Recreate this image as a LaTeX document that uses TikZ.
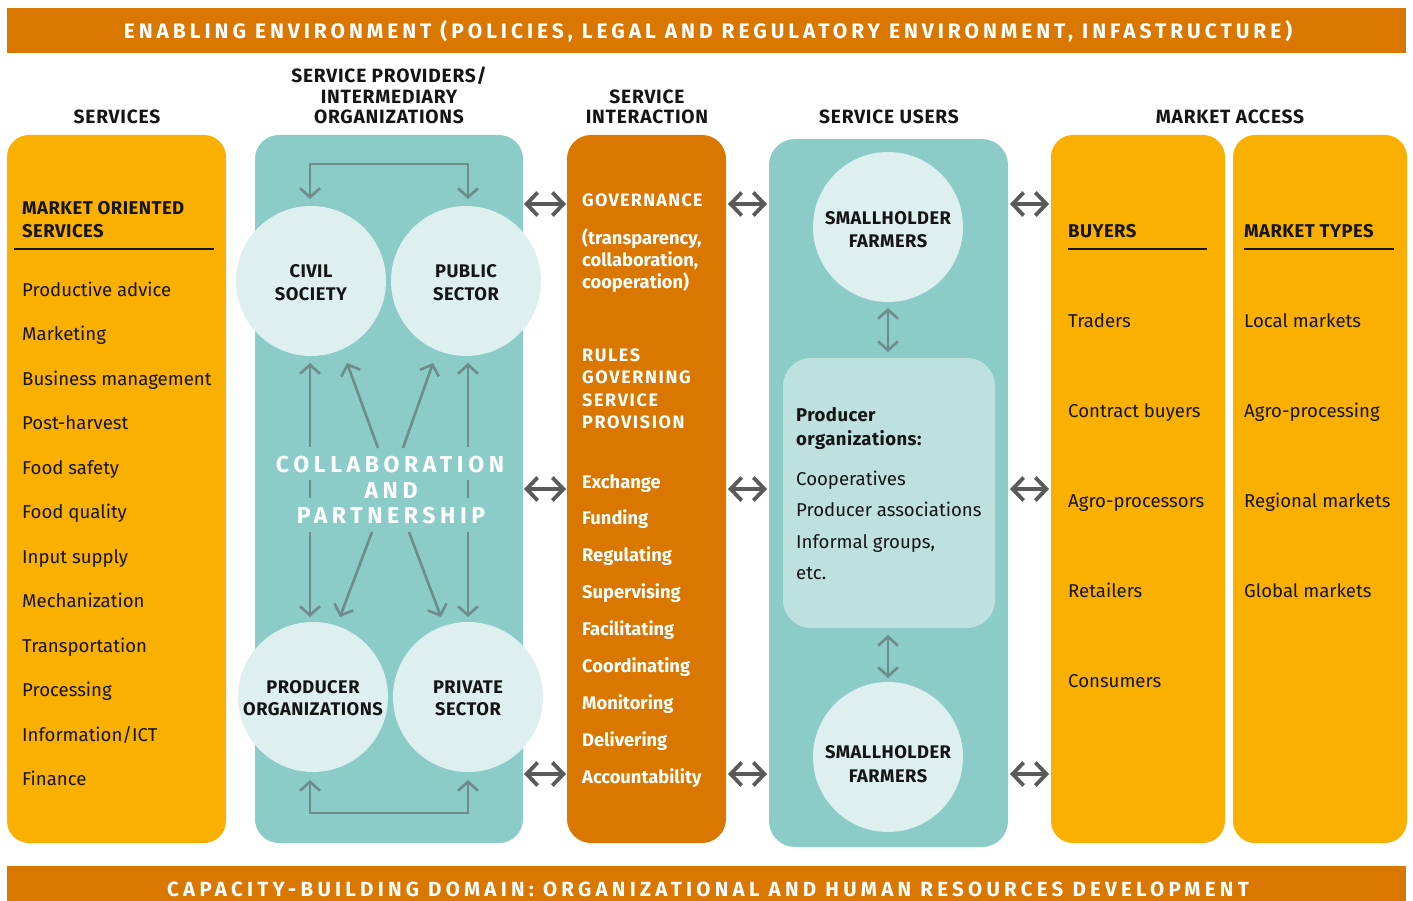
\documentclass[tikz,border=0pt]{standalone}
\usepackage{fontspec}
\setmainfont{Fira Sans}
\newfontfamily\bannerfont[LetterSpace=18.8]{Fira Sans}
\newfontfamily\bannerfontb[LetterSpace=20.8]{Fira Sans}
\newfontfamily\collabfont[LetterSpace=20]{Fira Sans}
\newfontfamily\govfont[LetterSpace=7]{Fira Sans}
\newfontfamily\rulesfont[LetterSpace=9]{Fira Sans}
\newfontfamily\headfont[LetterSpace=4]{Fira Sans}
\newfontfamily\subfont[LetterSpace=2.5]{Fira Sans}
\usetikzlibrary{arrows.meta}
\definecolor{orng}{HTML}{D97700}
\definecolor{yel}{HTML}{F9B000}
\definecolor{tealbg}{HTML}{8BCCC9}
\definecolor{circfill}{HTML}{DDEFEE}
\definecolor{innerfill}{HTML}{BEE0DF}
\definecolor{arrg}{HTML}{6D8D8B}
\definecolor{darkg}{HTML}{5A5A5A}
\definecolor{txt}{HTML}{151515}
\begin{document}
\begin{tikzpicture}[x=1pt,y=-1pt,
  item/.style={anchor=base west, inner sep=0pt, text=txt, font=\fontsize{18.6}{22}\selectfont},
  subhead/.style={anchor=base west, inner sep=0pt, text=txt, font=\subfont\bfseries\fontsize{18.5}{22}\selectfont},
  witem/.style={anchor=base west, inner sep=0pt, text=white, font=\bfseries\fontsize{18.3}{22}\selectfont},
  govtext/.style={anchor=base west, inner sep=0pt, text=white, font=\govfont\bfseries\fontsize{18}{22}\selectfont},
  rulestext/.style={anchor=base west, inner sep=0pt, text=white, font=\rulesfont\bfseries\fontsize{18}{22}\selectfont},
  colhead/.style={anchor=base, inner sep=0pt, text=txt, font=\headfont\bfseries\fontsize{19.2}{22}\selectfont},
  ctext/.style={anchor=base, inner sep=0pt, text=txt, font=\subfont\bfseries\fontsize{18.3}{22}\selectfont},
  collab/.style={anchor=base, inner sep=0pt, text=white, font=\collabfont\bfseries\fontsize{23}{24}\selectfont},
  banner/.style={anchor=base, inner sep=0pt, text=white, font=\bannerfont\bfseries\fontsize{21}{22}\selectfont},
  bannerb/.style={anchor=base, inner sep=0pt, text=white, font=\bannerfontb\bfseries\fontsize{20.5}{22}\selectfont},
  bigcirc/.style={circle, fill=circfill, minimum size=150pt, inner sep=0pt},
  garrow/.style={draw=arrg, line width=2.6pt, line join=miter},
  gtip/.style={-{Straight Barb[length=9pt,width=20pt]}},
  gboth/.style={{Straight Barb[length=9pt,width=20pt]}-{Straight Barb[length=9pt,width=20pt]}},
  darrow/.style={draw=darkg, line width=3.8pt, {Straight Barb[length=11pt,width=23pt]}-{Straight Barb[length=11pt,width=23pt]}},
  uline/.style={draw=txt, line width=1.3pt}
]
\useasboundingbox (0,0) rectangle (1413,901);

% banners
\fill[orng] (7,8) rectangle (1406,53);
\node[banner] (topbanner) at (708,39) {ENABLING ENVIRONMENT (POLICIES, LEGAL AND REGULATORY ENVIRONMENT, INFASTRUCTURE)};
\fill[orng] (7,866) rectangle (1406,901);
\node[bannerb] (botbanner) at (708,896) {CAPACITY-BUILDING DOMAIN: ORGANIZATIONAL AND HUMAN RESOURCES DEVELOPMENT};

% column headers
\node[colhead] (h1) at (117,124) {SERVICES};
\node[colhead] (h2a) at (389,83) {SERVICE PROVIDERS/};
\node[colhead] (h2b) at (389,104) {INTERMEDIARY};
\node[colhead] (h2c) at (389,124) {ORGANIZATIONS};
\node[colhead] (h3a) at (647,104) {SERVICE};
\node[colhead] (h3b) at (647,124) {INTERACTION};
\node[colhead] (h4) at (889,124) {SERVICE USERS};
\node[colhead] (h5) at (1230,124) {MARKET ACCESS};

% column boxes
\fill[yel, rounded corners=22pt] (7,135) rectangle (226,843);
\fill[tealbg, rounded corners=24pt] (255,135) rectangle (523,843);
\fill[orng, rounded corners=24pt] (567,135) rectangle (726,843);
\fill[tealbg, rounded corners=26pt] (769,139) rectangle (1008,847);
\fill[yel, rounded corners=22pt] (1051,135) rectangle (1225,843);
\fill[yel, rounded corners=22pt] (1233,135) rectangle (1407,843);

% ---- services column
\node[subhead] (ms1) at (22,215) {MARKET ORIENTED};
\node[subhead] (ms2) at (22,238) {SERVICES};
\draw[uline] (14,249) -- (214,249);
\foreach \t [count=\i] in {Productive advice, Marketing, Business management, Post-harvest, Food safety, Food quality, Input supply, Mechanization, Transportation, Processing, Information/ICT, Finance}
  \node[item] (svc\i) at (22,{296+44.5*(\i-1)}) {\t};

% ---- providers column
\node[bigcirc] (civil) at (311,281) {};
\node[bigcirc] (public) at (466,281) {};
\node[bigcirc] (prodorg) at (313,697) {};
\node[bigcirc] (private) at (468,697) {};
\node[ctext] (civa) at (311,277) {CIVIL};
\node[ctext] (civb) at (311,300) {SOCIETY};
\node[ctext] (puba) at (466,277) {PUBLIC};
\node[ctext] (pubb) at (466,300) {SECTOR};
\node[ctext] (poa) at (313,693) {PRODUCER};
\node[ctext] (pob) at (313,715) {ORGANIZATIONS};
\node[ctext] (pra) at (468,693) {PRIVATE};
\node[ctext] (prb) at (468,715) {SECTOR};

% brackets
\coordinate (tbl) at (310,199); \coordinate (tbr) at (468,199);
\draw[garrow, gboth] (tbl) -- (310,164) -- (468,164) -- (tbr);
\coordinate (bbl) at (310,780); \coordinate (bbr) at (468,780);
\draw[garrow, gboth] (bbl) -- (310,813) -- (468,813) -- (bbr);

% verticals
\foreach \xx/\nm in {310/L,468/R}{
  \coordinate (up\nm a) at (\xx,447); \coordinate (up\nm b) at (\xx,363);
  \coordinate (mid\nm a) at (\xx,480); \coordinate (mid\nm b) at (\xx,498);
  \coordinate (dn\nm a) at (\xx,532); \coordinate (dn\nm b) at (\xx,617);
  \draw[garrow, gtip] (up\nm a) -- (up\nm b);
  \draw[garrow] (mid\nm a) -- (mid\nm b);
  \draw[garrow, gtip] (dn\nm a) -- (dn\nm b);
}
% diagonals
\coordinate (d1a) at (378,448); \coordinate (d1b) at (347,363);
\coordinate (d2a) at (403,448); \coordinate (d2b) at (433,363);
\coordinate (d3a) at (372,532); \coordinate (d3b) at (340,617);
\coordinate (d4a) at (409,532); \coordinate (d4b) at (441,617);
\draw[garrow, gtip] (d1a) -- (d1b);
\draw[garrow, gtip] (d2a) -- (d2b);
\draw[garrow, gtip] (d3a) -- (d3b);
\draw[garrow, gtip] (d4a) -- (d4b);

\node[collab] (col1) at (390,472) {COLLABORATION};
\node[collab] (col2) at (391,498) {AND};
\node[collab] (col3) at (391,523) {PARTNERSHIP};

% ---- interaction column
\node[govtext] (gov) at (582,207) {GOVERNANCE};
\node[witem] (gp1) at (582,245) {(transparency,};
\node[witem] (gp2) at (582,267) {collaboration,};
\node[witem] (gp3) at (582,288) {cooperation)};
\node[rulestext] (r1) at (582,361) {RULES};
\node[rulestext] (r2) at (582,383) {GOVERNING};
\node[rulestext] (r3) at (582,406) {SERVICE};
\node[rulestext] (r4) at (582,428) {PROVISION};
\foreach \t [count=\i] in {Exchange, Funding, Regulating, Supervising, Facilitating, Coordinating, Monitoring, Delivering, Accountability}
  \node[witem] (act\i) at (582,{488+36.9*(\i-1)}) {\t};

% ---- users column
\node[bigcirc] (shf1) at (888,227) {};
\node[ctext] (shf1a) at (888,225) {SMALLHOLDER};
\node[ctext] (shf1b) at (888,248) {FARMERS};
\fill[innerfill, rounded corners=28pt] (783,358) rectangle (995,628);
\node[subhead] (po1) at (796,421) {Producer};
\node[subhead] (po2) at (796,445) {organizations:};
\node[item] (po3) at (796,485) {Cooperatives};
\node[item] (po4) at (796,516) {Producer associations};
\node[item] (po5) at (796,548) {Informal groups,};
\node[item] (po6) at (796,579) {etc.};
\node[bigcirc] (shf2) at (888,757) {};
\node[ctext] (shf2a) at (888,758) {SMALLHOLDER};
\node[ctext] (shf2b) at (888,782) {FARMERS};
\coordinate (va1) at (888,308); \coordinate (va2) at (888,352);
\coordinate (vb1) at (888,635); \coordinate (vb2) at (888,678);
\draw[garrow, gboth] (va1) -- (va2);
\draw[garrow, gboth] (vb1) -- (vb2);

% ---- market access columns
\node[subhead] (buy) at (1068,238) {BUYERS};
\draw[uline] (1068,249) -- (1207,249);
\foreach \t [count=\i] in {Traders, Contract buyers, Agro-processors, Retailers, Consumers}
  \node[item] (b\i) at (1068,{327+90*(\i-1)}) {\t};
\node[subhead] (mt) at (1244,238) {MARKET TYPES};
\draw[uline] (1244,249) -- (1394,249);
\foreach \t [count=\i] in {Local markets, Agro-processing, Regional markets, Global markets}
  \node[item] (m\i) at (1244,{327+90*(\i-1)}) {\t};

% ---- double arrows between columns
\foreach \yy [count=\i] in {204,489,774}{
  \coordinate (la\i) at (524,\yy); \coordinate (lb\i) at (566,\yy);
  \coordinate (ma\i) at (728,\yy); \coordinate (mb\i) at (767,\yy);
  \coordinate (ra\i) at (1010,\yy); \coordinate (rb\i) at (1049,\yy);
  \draw[darrow] (la\i) -- (lb\i);
  \draw[darrow] (ma\i) -- (mb\i);
  \draw[darrow] (ra\i) -- (rb\i);
}
\end{tikzpicture}
\end{document}
